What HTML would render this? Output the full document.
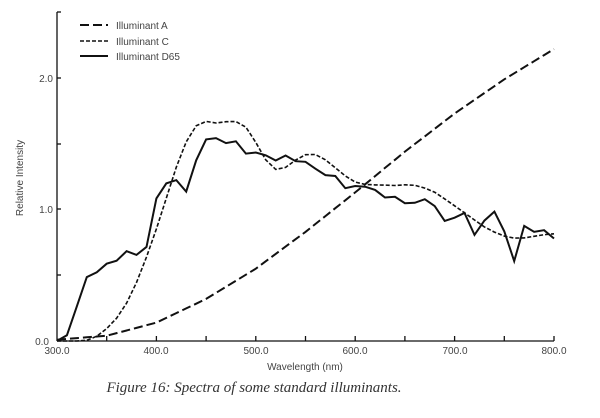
<!DOCTYPE html>
<html><head><meta charset="utf-8"><style>
html,body{margin:0;padding:0;background:#fff;width:600px;height:418px;overflow:hidden}
svg{display:block}
text{font-family:"Liberation Sans",sans-serif;fill:#444}
</style></head><body>
<svg id="s" width="600" height="418" viewBox="0 0 600 418" xmlns="http://www.w3.org/2000/svg">
<g stroke="#111" stroke-width="1.3" fill="none">
<line x1="57" y1="12" x2="57" y2="341"/>
<line x1="57" y1="341" x2="554" y2="341"/>
<line x1="57" y1="12" x2="61" y2="12"/>
<line x1="57" y1="78" x2="61" y2="78"/>
<line x1="57" y1="144" x2="61" y2="144"/>
<line x1="57" y1="209" x2="61" y2="209"/>
<line x1="57" y1="275" x2="61" y2="275"/>
</g>
<g id="xt" stroke="#111" stroke-width="1.3"></g>
<g font-size="10">
<text x="53" y="82" text-anchor="end">2.0</text>
<text x="53" y="213" text-anchor="end">1.0</text>
<text x="49" y="345" text-anchor="end">0.0</text>
<text x="57" y="354" text-anchor="middle">300.0</text>
<text x="156" y="354" text-anchor="middle">400.0</text>
<text x="256" y="354" text-anchor="middle">500.0</text>
<text x="355" y="354" text-anchor="middle">600.0</text>
<text x="455" y="354" text-anchor="middle">700.0</text>
<text x="554" y="354" text-anchor="middle">800.0</text>
<text x="305" y="370" text-anchor="middle">Wavelength (nm)</text>
<text transform="translate(23,178) rotate(-90)" text-anchor="middle">Relative Intensity</text>
<text x="116" y="29">Illuminant A</text>
<text x="116" y="45">Illuminant C</text>
<text x="116" y="60">Illuminant D65</text>
</g>
<g stroke="#111" stroke-width="2" fill="none">
<line x1="80" y1="25" x2="108" y2="25" stroke-dasharray="9,4"/>
<line x1="80" y1="41" x2="108" y2="41" stroke-width="1.6" stroke-dasharray="4,2"/>
<line x1="80" y1="56" x2="108" y2="56"/>
</g>
<path id="pa" stroke="#111" stroke-width="2" fill="none" stroke-dasharray="9,4"/>
<path id="pc" stroke="#111" stroke-width="1.6" fill="none" stroke-dasharray="4,2"/>
<path id="pd" stroke="#111" stroke-width="2" fill="none"/>
<text x="254" y="392" text-anchor="middle" font-size="15" font-style="italic" style="font-family:'Liberation Serif',serif;fill:#333">Figure 16:  Spectra of some standard illuminants.</text>
</svg>
<script>
function X(w){return 57+(w-300)*0.994}
function Y(v){return 341-131.5*v}
var xt='';for(var w=350;w<=800;w+=50){xt+='<line x1="'+X(w)+'" y1="341" x2="'+X(w)+'" y2="336"/>'}
document.getElementById('xt').innerHTML=xt;
function path(arr,k){var d='';for(var i=0;i<arr.length;i++){d+=(i?'L':'M')+X(300+i*10).toFixed(1)+','+Y(arr[i]*k).toFixed(1)}return d}
var A=[];
var ak=[[300,0.01],[350,0.04],[400,0.14],[450,0.32],[500,0.55],[550,0.83],[600,1.13],[650,1.44],[700,1.73],[750,1.99],[800,2.22]];
for(var w=300;w<=800;w+=10){for(var j=0;j<ak.length-1;j++){if(w>=ak[j][0]&&w<=ak[j+1][0]){var t=(w-ak[j][0])/50;A.push(ak[j][1]+(ak[j+1][1]-ak[j][1])*t);break;}}}
var C=[0,0,0.01,0.4,2.7,7.0,12.9,21.4,33.0,47.4,63.3,80.6,98.1,112.4,121.5,124.0,123.1,123.8,123.9,120.7,112.1,102.3,96.9,98.0,102.1,105.2,105.3,102.3,97.8,93.2,89.7,88.4,88.1,88.0,87.8,88.2,87.9,86.3,84.0,80.2,76.3,72.4,68.3,64.4,61.5,59.2,58.1,58.2,59.1,60.0,60.5];
var D=[0.03,3.3,20.2,37.1,39.9,44.9,46.6,52.1,50.0,54.6,82.8,91.5,93.4,86.7,104.9,117.0,117.8,114.9,115.9,108.8,109.4,107.8,104.8,107.7,104.4,104.0,100,96.3,95.8,88.7,90.0,89.6,87.7,83.3,83.7,80.0,80.2,82.3,78.3,69.7,71.6,74.3,61.6,69.9,75.1,63.6,46.4,66.8,63.4,64.3,59.5];
document.getElementById('pa').setAttribute('d',path(A,1));
document.getElementById('pc').setAttribute('d',path(C,0.01347));
document.getElementById('pd').setAttribute('d',path(D,0.0131));
</script>
</body></html>
